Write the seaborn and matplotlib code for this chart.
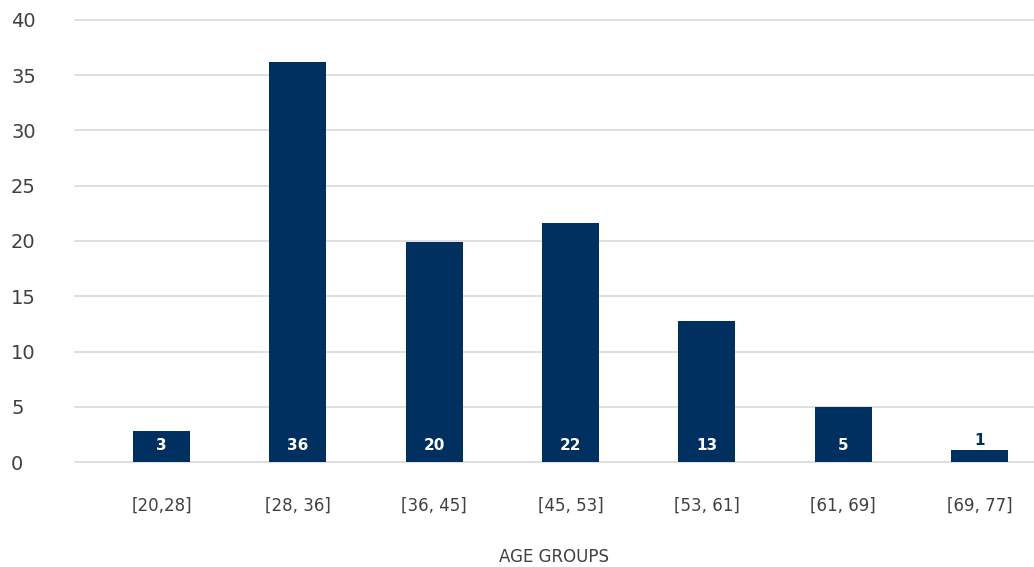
import matplotlib
matplotlib.use("Agg")
import matplotlib.pyplot as plt
import seaborn as sns
import pandas as pd

# Age-group distribution
age_groups = ["[20,28]", "[28, 36]", "[36, 45]", "[45, 53]", "[53, 61]", "[61, 69]", "[69, 77]"]
counts = [2.8, 36.2, 19.9, 21.6, 12.8, 5.0, 1.1]
y_ticks = [0, 5, 10, 15, 20, 25, 30, 35, 40]

NAVY = "#003060"
TEXT = "#404040"
GRID = "#d9d9d9"

sns.set_style("white")
plt.rcParams["font.family"] = ["DejaVu Sans"]

df = pd.DataFrame({"group": age_groups, "count": counts})

fig = plt.figure(figsize=(10.34, 5.67), dpi=100)
ax = fig.add_axes([0.0725, 0.185, 0.9275, 0.78])

sns.barplot(data=df, x="group", y="count", color=NAVY, width=0.42,
            saturation=1, linewidth=0, ax=ax, zorder=3)

ax.set_ylim(0, 40)
ax.set_xlim(-0.635, 6.40)
ax.set_yticks(y_ticks)
ax.yaxis.grid(True, color=GRID, linewidth=1.2, zorder=0)
ax.xaxis.grid(False)
for gl in ax.get_ygridlines():
    gl.set_clip_on(False)
for s in ax.spines.values():
    s.set_visible(False)

ax.tick_params(axis="y", length=0, pad=46, labelsize=14, labelcolor=TEXT)
for lbl in ax.get_yticklabels():
    lbl.set_horizontalalignment("left")
ax.tick_params(axis="x", length=0, pad=25, labelsize=12, labelcolor=TEXT)

ax.set_xlabel("AGE GROUPS", fontsize=12, color=TEXT, labelpad=24)
ax.set_ylabel("")

# Value labels: inside the base of the bar, or above it when the bar is too short
for i, v in enumerate(counts):
    txt = f"{v:.0f}"
    if v >= 2.5:
        ax.annotate(txt, (i, 0), xytext=(0, 12), textcoords="offset points",
                    ha="center", va="center", color="white",
                    fontsize=11, fontweight="bold", zorder=4)
    else:
        ax.annotate(txt, (i, v), xytext=(0, 7), textcoords="offset points",
                    ha="center", va="center", color=NAVY,
                    fontsize=11, fontweight="bold", zorder=4)

fig.savefig("out.png", dpi=100)
